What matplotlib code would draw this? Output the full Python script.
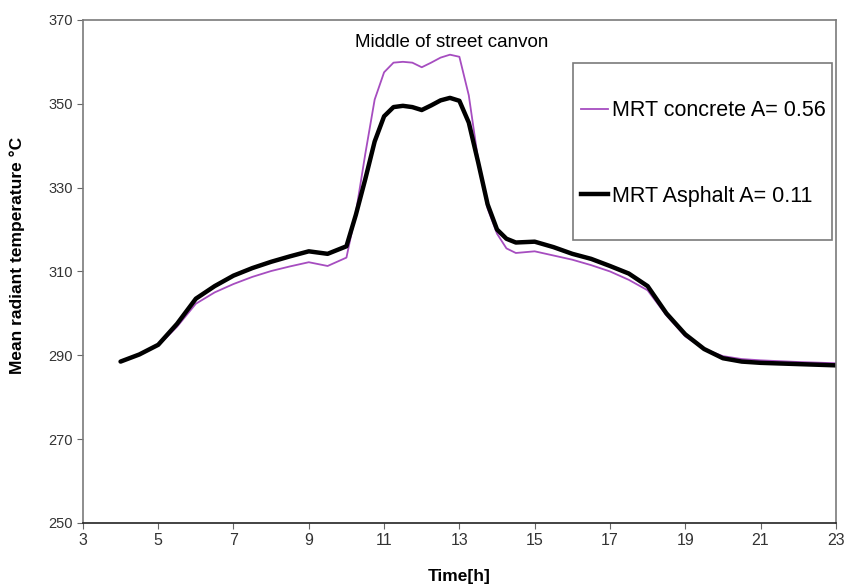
import matplotlib.pyplot as plt
from matplotlib.lines import Line2D
from matplotlib.patches import Rectangle

# Hourly readings (h) and mean radiant temperature for both surfaces
hours = [4, 4.5, 5, 5.5, 6, 6.5, 7, 7.5, 8, 8.5, 9, 9.5, 10, 10.25, 10.5, 10.75,
         11, 11.25, 11.5, 11.75, 12, 12.25, 12.5, 12.75, 13, 13.25, 13.5, 13.75,
         14, 14.25, 14.5, 15, 15.5, 16, 16.5, 17, 17.5, 18, 18.5, 19, 19.5, 20,
         20.5, 21, 22, 23]

mrt_concrete = [288.5, 290.2, 292.3, 296.8, 302.3, 305.0, 307.0, 308.7, 310.1, 311.2,
                312.2, 311.3, 313.3, 324.0, 338.0, 351.0, 357.5, 359.8, 360.0, 359.8,
                358.7, 359.8, 361.0, 361.7, 361.2, 352.0, 336.5, 325.0, 319.0, 315.5,
                314.4, 314.8, 313.8, 312.8, 311.5, 310.0, 308.0, 305.5, 299.5, 294.5,
                291.5, 289.8, 289.1, 288.8, 288.4, 288.1]

mrt_asphalt = [288.5, 290.2, 292.5, 297.5, 303.5, 306.5, 309.0, 310.8, 312.3, 313.6,
               314.8, 314.2, 316.0, 323.5, 332.0, 341.0, 347.0, 349.2, 349.5, 349.2,
               348.5, 349.6, 350.8, 351.4, 350.7, 345.5, 336.0, 326.0, 320.0, 317.8,
               316.9, 317.1, 315.8, 314.2, 313.0, 311.3, 309.5, 306.5, 300.0, 295.0,
               291.5, 289.3, 288.5, 288.2, 287.9, 287.6]

x_ticks = list(range(3, 24, 2))
y_ticks = list(range(250, 371, 20))

label_concrete = "MRT concrete A= 0.56"
label_asphalt = "MRT Asphalt A= 0.11"

narrow = ['Liberation Sans Narrow', 'Liberation Sans']
plt.rcParams['font.family'] = ['Liberation Sans', 'DejaVu Sans']

fig = plt.figure(figsize=(8.46, 5.85), dpi=100)
ax = fig.add_axes([0.098, 0.106, 0.890, 0.860])

ax.plot(hours, mrt_concrete, color='#a64dc0', lw=1.3, solid_capstyle='round',
        solid_joinstyle='round')
ax.plot(hours, mrt_asphalt, color='black', lw=3.2, solid_capstyle='round',
        solid_joinstyle='round')

ax.set_xlim(3, 23)
ax.set_ylim(250, 370)
ax.set_xticks(x_ticks)
ax.set_yticks(y_ticks)
ax.tick_params(direction='out', length=4, width=0.8, color='#666666',
               labelsize=10.5, labelcolor='#333333')
for s in ['left', 'top', 'right']:
    ax.spines[s].set_color('#7a7a7a')
    ax.spines[s].set_linewidth(1.2)
ax.spines['bottom'].set_color('#222222')
ax.spines['bottom'].set_linewidth(1.2)

for lbl in ax.get_xticklabels():
    lbl.set_family(narrow)
    lbl.set_fontsize(11.5)

ax.set_ylabel("Mean radiant temperature °C", fontsize=12.5, fontweight='bold')
ax.yaxis.set_label_coords(-0.077, 0.531)
ax.set_xlabel("Time[h]", fontsize=12.5, fontweight='bold', family=narrow)
ax.xaxis.set_label_coords(0.5, -0.092)

ax.text(0.49, 0.955, "Middle of street canvon", transform=ax.transAxes,
        ha='center', va='center', fontsize=13.5)

# legend frame drawn separately so the entries can sit far apart
ax.add_patch(Rectangle((0.6507, 0.5626), 0.344, 0.352, transform=ax.transAxes,
                       facecolor='white', edgecolor='#7a7a7a', lw=1.2, zorder=4))

handles = [Line2D([], [], color='#a64dc0', lw=1.3),
           Line2D([], [], color='black', lw=3.2)]
leg = ax.legend(handles, [label_concrete, label_asphalt], loc='center left',
                bbox_to_anchor=(0.661, 0.7346), fontsize=15.5, frameon=False,
                handlelength=1.25, handletextpad=0.23, labelspacing=3.0,
                borderpad=0.0, borderaxespad=0.0)
leg.set_zorder(5)

fig.savefig('out.png', dpi=100, facecolor='white')
